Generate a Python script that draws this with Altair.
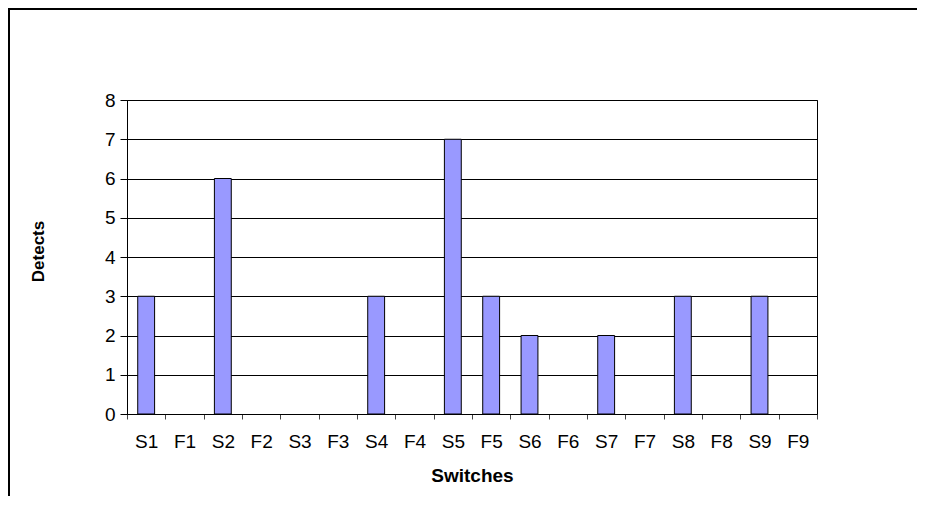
import altair as alt
import pandas as pd

categories = ["S1", "F1", "S2", "F2", "S3", "F3", "S4", "F4", "S5",
              "F5", "S6", "F6", "S7", "F7", "S8", "F8", "S9", "F9"]
detects = [3, 0, 6, 0, 0, 0, 3, 0, 7, 3, 2, 0, 2, 0, 3, 0, 3, 0]
y_ticks = [0, 1, 2, 3, 4, 5, 6, 7, 8]

df = pd.DataFrame({"Switch": categories, "Detects": detects})

FONT = "Liberation Sans"
W, H = 690, 314
PAD = {"left": 119, "top": 92, "right": 100, "bottom": 82}

bars = alt.Chart(df).mark_bar(
    width=alt.RelativeBandSize(0.44),
    color="#9999FF",
    strokeWidth=1,
).encode(
    x=alt.X("Switch:N", sort=categories,
            scale=alt.Scale(paddingInner=0, paddingOuter=0),
            axis=alt.Axis(title="Switches", labelAngle=0, tickBand="extent",
                          tickSize=5, tickColor="#444444", domainColor="black",
                          labelPadding=13, labelFontSize=19, labelFont=FONT,
                          labelColor="black", titleFont=FONT, titleFontSize=19,
                          titleFontWeight="bold", titleColor="black",
                          titlePadding=15, grid=False)),
    y=alt.Y("Detects:Q",
            scale=alt.Scale(domain=[0, 8], nice=False),
            axis=alt.Axis(title="Detects", values=y_ticks, tickSize=7,
                          tickColor="black", domainColor="black",
                          labelPadding=5, labelFontSize=19, labelFont=FONT,
                          labelColor="black", titleFont=FONT, titleFontSize=17,
                          titleFontWeight="bold", titleColor="black",
                          titlePadding=57, titleY=151,
                          grid=True, gridColor="black", gridWidth=1)),
    stroke=alt.condition(alt.datum.Detects > 0, alt.value("black"),
                         alt.value("transparent")),
)

frame_top = alt.Chart(df).mark_rule(color="black", strokeWidth=2).encode(
    x=alt.value(-PAD["left"]), x2=alt.value(W + PAD["right"]),
    y=alt.value(-PAD["top"] + 1))
frame_left = alt.Chart(df).mark_rule(color="black", strokeWidth=2).encode(
    x=alt.value(-PAD["left"] + 1), y=alt.value(-PAD["top"]),
    y2=alt.value(H + PAD["bottom"]))

chart = alt.layer(bars, frame_top, frame_left).properties(
    width=W, height=H, padding=PAD, autosize="none",
    background="white",
).configure_view(stroke="black", strokeWidth=1)

chart.save("out.html", embed_options={"renderer": "svg", "actions": False})
